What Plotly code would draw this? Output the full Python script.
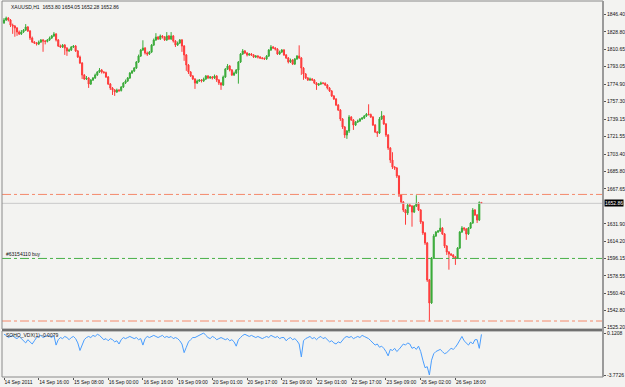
import plotly.graph_objects as go

# ---------------- data ----------------
closes = [
    1841.0, 1843.0, 1841.0, 1835.8, 1834.8, 1832.8, 1828.7, 1826.6, 1828.7, 1830.7,
    1833.8, 1829.7, 1822.5, 1818.4, 1817.4, 1816.3, 1818.4, 1820.5, 1819.4, 1819.0,
    1820.5, 1822.5, 1824.6, 1826.6, 1820.5, 1814.3, 1813.3, 1815.3, 1812.2, 1809.2,
    1810.2, 1813.3, 1814.3, 1809.2, 1803.0, 1796.8, 1784.5, 1780.4, 1781.5, 1775.3,
    1779.4, 1781.5, 1784.5, 1787.6, 1789.7, 1787.6, 1787.0, 1782.5, 1775.3, 1771.2,
    1769.1, 1767.1, 1769.1, 1768.6, 1772.2, 1776.3, 1778.4, 1781.5, 1786.6, 1788.6,
    1791.7, 1797.9, 1804.0, 1810.2, 1812.2, 1807.1, 1806.1, 1808.1, 1815.3, 1820.5,
    1823.5, 1821.5, 1824.6, 1823.5, 1820.5, 1824.6, 1821.5, 1824.6, 1819.4, 1815.3,
    1817.4, 1820.5, 1814.3, 1805.1, 1794.8, 1787.6, 1783.5, 1780.4, 1776.3, 1778.4,
    1779.4, 1778.4, 1780.4, 1783.5, 1781.5, 1782.5, 1781.5, 1783.5, 1779.4, 1776.3,
    1774.3, 1782.5, 1790.7, 1793.8, 1789.7, 1784.5, 1786.6, 1789.7, 1797.9, 1806.1,
    1809.2, 1807.1, 1805.1, 1806.1, 1805.1, 1803.0, 1804.0, 1803.0, 1802.0, 1801.6,
    1801.0, 1804.0, 1810.2, 1813.3, 1812.2, 1811.2, 1806.1, 1808.1, 1810.2, 1805.1,
    1802.0, 1797.9, 1799.9, 1795.8, 1801.0, 1804.0, 1802.0, 1791.7, 1785.6, 1781.5,
    1779.4, 1780.4, 1779.4, 1776.3, 1774.3, 1775.3, 1776.3, 1776.0, 1774.3, 1771.2,
    1768.1, 1763.0, 1759.9, 1753.7, 1748.6, 1739.4, 1731.2, 1723.0, 1727.1, 1741.4,
    1738.4, 1733.2, 1736.3, 1737.3, 1739.4, 1740.4, 1742.5, 1744.5, 1744.0, 1741.4,
    1733.2, 1726.0, 1725.0, 1739.4, 1742.5, 1734.3, 1723.0, 1709.6, 1697.3, 1690.1,
    1689.1, 1680.9, 1661.4, 1654.2, 1646.0, 1642.9, 1651.1, 1650.1, 1643.9, 1650.1,
    1653.2, 1646.0, 1633.7, 1622.4, 1612.2, 1574.2, 1550.6, 1596.7, 1619.3, 1623.4,
    1624.5, 1627.5, 1621.4, 1609.0, 1602.9, 1600.8, 1599.8, 1597.8, 1596.7, 1607.0,
    1623.4, 1627.5, 1626.5, 1621.4, 1627.5, 1632.7, 1646.0, 1640.9, 1635.7, 1653.8,
    1652.86,
]

opens = [
    1838.0, 1841.0, 1843.0, 1841.0, 1835.8, 1834.8, 1832.8, 1828.7, 1826.6, 1828.7,
    1830.7, 1833.8, 1829.7, 1822.5, 1818.4, 1817.4, 1816.3, 1818.4, 1820.5, 1819.4,
    1819.0, 1820.5, 1822.5, 1824.6, 1826.6, 1820.5, 1814.3, 1813.3, 1815.3, 1812.2,
    1809.2, 1810.2, 1813.3, 1814.3, 1809.2, 1803.0, 1796.8, 1784.5, 1780.4, 1781.5,
    1775.3, 1779.4, 1781.5, 1784.5, 1787.6, 1789.7, 1787.6, 1787.0, 1782.5, 1775.3,
    1771.2, 1769.1, 1767.1, 1769.1, 1768.6, 1772.2, 1776.3, 1778.4, 1781.5, 1786.6,
    1788.6, 1791.7, 1797.9, 1804.0, 1810.2, 1812.2, 1807.1, 1806.1, 1808.1, 1815.3,
    1820.5, 1823.5, 1821.5, 1824.6, 1823.5, 1820.5, 1824.6, 1821.5, 1824.6, 1819.4,
    1815.3, 1817.4, 1820.5, 1814.3, 1805.1, 1794.8, 1787.6, 1783.5, 1780.4, 1776.3,
    1778.4, 1779.4, 1778.4, 1780.4, 1783.5, 1781.5, 1782.5, 1781.5, 1783.5, 1779.4,
    1776.3, 1774.3, 1782.5, 1790.7, 1793.8, 1789.7, 1784.5, 1786.6, 1789.7, 1797.9,
    1806.1, 1809.2, 1807.1, 1805.1, 1806.1, 1805.1, 1803.0, 1804.0, 1803.0, 1802.0,
    1801.6, 1801.0, 1804.0, 1810.2, 1813.3, 1812.2, 1811.2, 1806.1, 1808.1, 1810.2,
    1805.1, 1802.0, 1797.9, 1799.9, 1795.8, 1801.0, 1804.0, 1802.0, 1791.7, 1785.6,
    1781.5, 1779.4, 1780.4, 1779.4, 1776.3, 1774.3, 1775.3, 1776.3, 1776.0, 1774.3,
    1771.2, 1768.1, 1763.0, 1759.9, 1753.7, 1748.6, 1739.4, 1731.2, 1723.0, 1727.1,
    1741.4, 1738.4, 1733.2, 1736.3, 1737.3, 1739.4, 1740.4, 1742.5, 1744.5, 1744.0,
    1741.4, 1733.2, 1726.0, 1725.0, 1739.4, 1742.5, 1734.3, 1723.0, 1709.6, 1697.3,
    1690.1, 1689.1, 1680.9, 1661.4, 1654.2, 1646.0, 1642.9, 1651.1, 1650.1, 1643.9,
    1650.1, 1653.2, 1646.0, 1633.7, 1622.4, 1612.2, 1574.2, 1550.6, 1596.7, 1619.3,
    1623.4, 1624.5, 1627.5, 1621.4, 1609.0, 1602.9, 1600.8, 1599.8, 1597.8, 1596.7,
    1607.0, 1623.4, 1627.5, 1626.5, 1621.4, 1627.5, 1632.7, 1646.0, 1640.9, 1635.7,
    1653.80,
]

# upper / lower shadow lengths (price units) read from the candles
upper_wicks = [
    2, 1.5, 1, 1, 1.5, 1, 1, 1.5, 2, 1,
    3, 1, 1, 1.5, 1, 1, 1.5, 1, 1, 1,
    1, 1.5, 1, 2, 1, 1, 1.5, 1, 1, 1,
    1.5, 1, 1, 1, 1, 1.5, 1, 1, 2, 1,
    1, 1, 1.5, 1, 2, 1, 1, 1, 1, 1,
    1, 1, 1.5, 1, 1, 1, 1.5, 1, 1, 1,
    1, 1, 1.5, 1, 8, 1, 1.5, 1, 1, 1.5,
    4, 1, 1.5, 1, 1, 4, 1, 4, 1, 1,
    1.5, 1, 1, 1, 1, 1, 1, 1, 1, 1.5,
    1, 1, 1.5, 1, 1, 1, 1, 1.5, 1, 1,
    1, 1.5, 1, 2, 1, 1, 1.5, 1, 1, 1,
    2, 1, 1, 1, 1, 1, 1, 1, 1, 1,
    1, 1, 1, 2, 1, 1, 1, 1.5, 1, 1,
    1, 1, 1.5, 1, 1, 1, 11, 1, 1, 1,
    1, 1.5, 1, 1, 1, 1, 1.5, 1, 1, 1,
    1, 1, 1, 1, 1, 1, 1, 1, 1, 2,
    1, 1, 1, 1.5, 1, 1, 1, 1, 10, 1,
    1, 1, 1, 2, 5, 1, 1, 1, 1, 8,
    1, 1, 1, 1, 1, 1, 2, 2, 1, 1,
    8, 1, 1, 1, 1, 1, 1, 1, 2, 1,
    1, 10, 1, 1, 1, 1, 1, 1, 1, 1,
    1, 2, 1, 1, 1, 1, 2, 1, 1, 1,
    0.25,
]
lower_wicks = [
    1, 1, 1.5, 2, 8, 9, 4, 1, 1, 1,
    1, 1, 2, 1, 1, 1.5, 1, 1, 11, 3,
    1, 1, 1, 1, 1.5, 1, 1, 1, 7, 5,
    1, 1, 1, 1, 1, 1, 4, 1, 1, 4,
    1, 1, 1, 1, 1, 1.5, 1, 1, 1, 2,
    5, 4, 1, 1.5, 1, 1, 1, 1, 1, 1,
    1, 1, 1, 1, 1, 1.5, 2, 1, 1, 1,
    1, 1, 1, 1.5, 1, 1, 1, 1, 1.5, 2,
    1, 1, 6, 6, 6, 2, 1, 1, 6, 1,
    1, 1.5, 1, 1, 1, 1, 1.5, 1, 2, 2,
    5, 1, 1, 1, 1.5, 1, 1, 1, 14, 1,
    1, 1, 1.5, 1, 1, 1, 1, 1.5, 1, 1,
    1, 1, 1, 1, 1, 1.5, 1, 1, 1, 1,
    1, 1.5, 1, 1, 1, 1, 1, 7, 6, 1,
    1, 1, 1, 1, 5, 1, 1, 1, 1, 1.5,
    1, 1, 1, 1, 1, 2, 2, 3, 4, 2,
    1, 5, 1, 1, 1, 1, 1, 1, 1, 1,
    1, 1, 4, 1, 1, 1, 2, 2, 3, 2,
    2, 2, 2, 2, 2, 12, 2, 1, 15, 1,
    1, 1, 2, 2, 2, 2, 19, 1, 1, 1,
    1, 1, 1, 2, 3, 16, 1, 1, 7, 1,
    1, 1, 2, 6, 1, 1, 1, 1, 3, 1,
    0.58,
]

# SOHO_VDX(1) indicator values
vdx = [
    0.0, -0.1, -0.3, -0.2, -0.1, -0.3, -0.4, -0.2, -0.4, -0.6,
    -0.8, -0.5, -0.7, -0.9, -0.6, -0.3, -0.2, -0.1, -0.3, -0.2,
    -0.1, -0.2, -0.3, -0.1, -1.0, -0.5, -0.3, -0.4, -0.2, -0.3,
    -0.5, -0.3, -0.2, -0.4, -0.8, -1.5, -0.9, -0.5, -0.3, -0.2,
    -0.3, -0.1, -0.2, 0.0, -0.1, -0.3, -0.5, -0.4, -0.6, -0.4,
    -0.5, -0.7, -0.6, -0.9, -0.5, -0.3, -0.4, -0.3, -0.2, -0.3,
    -0.4, -0.3, -0.5, -0.4, -1.0, -0.4, -0.2, -0.3, -0.2, -0.1,
    -0.2, -0.3, -0.2, -0.1, -0.3, -0.2, -0.3, -0.2, -0.4, -0.3,
    -0.4, -0.6, -0.9, -1.7, -1.2, -0.7, -0.5, -0.3, -0.3, -0.2,
    -0.1, 0.0, 0.1208, -0.1, -0.3, -0.4, -0.2, -0.3, -0.5, -0.4,
    -0.3, -0.4, -0.5, -0.4, -0.6, -0.5, -0.7, -1.1, -0.5, -0.3,
    -0.1, 0.0, -0.1, -0.2, -0.1, -0.2, -0.3, -0.2, -0.3, -0.4,
    -0.3, -0.2, -0.3, -0.1, -0.2, -0.3, -0.2, -0.4, -0.3, -0.3,
    -0.6, -0.4, -0.3, -0.5, -0.4, -0.6, -0.9, -2.1, -0.6, -0.4,
    -0.3, -0.2, -0.4, -0.3, -0.5, -0.3, -0.2, -0.4, -0.3, -0.5,
    -0.7, -0.6, -0.8, -0.9, -0.7, -0.8, -0.5, -0.3, -0.2, -0.3,
    -0.2, -0.4, -0.3, -0.2, -0.3, -0.1, -0.2, -0.3, -0.4, -0.6,
    -0.8, -1.0, -0.9, -1.2, -1.1, -1.3, -1.6, -2.0, -1.4, -1.5,
    -1.3, -1.6, -1.4, -1.1, -0.9, -1.0, -0.8, -0.9, -1.3, -1.2,
    -1.4, -1.1, -1.6, -2.4, -3.1, -3.0, -3.7726, -2.4, -1.8, -1.6,
    -1.5, -1.4, -1.6, -1.8, -1.7, -1.5, -1.3, -1.4, -1.2, -0.9,
    -0.5, -0.2, -0.6, -0.8, -1.0, -0.7, -0.9, -0.5, -0.5, -1.3,
    -0.0079,
]

time_label_bars = [0, 16, 32, 48, 64, 80, 96, 112, 128, 144, 160, 176, 192, 208]
time_labels = ["14 Sep 2011", "14 Sep 16:00", "15 Sep 08:00", "16 Sep 00:00",
               "16 Sep 16:00", "19 Sep 09:00", "20 Sep 01:00", "20 Sep 17:00",
               "21 Sep 09:00", "22 Sep 01:00", "22 Sep 17:00", "23 Sep 09:00",
               "26 Sep 02:00", "26 Sep 18:00"]

price_ticks = [1846.40, 1828.80, 1810.65, 1793.05, 1774.90, 1757.30, 1739.15,
               1721.55, 1703.40, 1685.80, 1667.65, 1631.90, 1614.20, 1596.15,
               1578.55, 1560.40, 1542.80, 1525.20]
vdx_ticks = [0.1208, -3.7726]

symbol_title = "XAUUSD,H1  1653.80 1654.05 1652.28 1652.86"
indicator_title = "SOHO_VDX(1) -0.0079"
order_label = "#63154110 buy"
tp_level = 1662.0
order_level = 1596.3
sl_level = 1532.1
bid_price = 1652.86

assert len(closes) == len(opens) == len(upper_wicks) == len(lower_wicks) == len(vdx), \
    (len(closes), len(opens), len(upper_wicks), len(lower_wicks), len(vdx))

bars = list(range(len(closes)))
highs = [max(o, c) + u for o, c, u in zip(opens, closes, upper_wicks)]
lows = [min(o, c) - w for o, c, w in zip(opens, closes, lower_wicks)]

# ---------------- styling ----------------
BG = "#f3f3f1"
GREEN = "#3aab3a"
RED = "#ff3b3b"
FONT = "Liberation Sans"
FS = 5

W, H = 625, 387
ML, MR, MT, MB = 2, 22, 1, 10
PW = W - ML - MR
PH = H - MT - MB


def py(pix):  # pixel row -> paper y
    return (H - MB - pix) / PH


def px(pix):  # pixel column -> paper x
    return (pix - ML) / PW


main_dom = [py(329), 1.0]
ind_dom = [0.0, py(331)]
x_range = [-0.92, 276.0]

fig = go.Figure()
fig.add_trace(go.Candlestick(
    x=bars, open=opens, high=highs, low=lows, close=closes,
    increasing=dict(line=dict(color=GREEN, width=1), fillcolor=GREEN),
    decreasing=dict(line=dict(color=RED, width=1), fillcolor=RED),
    whiskerwidth=0, xaxis="x", yaxis="y", showlegend=False, hoverinfo="skip",
))
fig.add_trace(go.Scatter(
    x=bars, y=vdx, mode="lines", line=dict(color="#4a9eff", width=1),
    xaxis="x", yaxis="y2", showlegend=False, hoverinfo="skip",
))

shapes = []
# order lines
for lvl, col in [(tp_level, "#f58a6c"), (sl_level, "#f58a6c"), (order_level, "#48b048")]:
    shapes.append(dict(type="line", xref="paper", yref="y", x0=0, x1=1, y0=lvl, y1=lvl,
                       line=dict(color=col, width=1, dash="dashdot")))
# bid line
shapes.append(dict(type="line", xref="paper", yref="y", x0=0, x1=1, y0=bid_price, y1=bid_price,
                   line=dict(color="#c9c9c9", width=1)))
# frames
shapes.append(dict(type="rect", xref="paper", yref="paper", x0=0, x1=1, y0=main_dom[0], y1=1,
                   line=dict(color="#8a8a8a", width=1)))
shapes.append(dict(type="rect", xref="paper", yref="paper", x0=0, x1=1, y0=0, y1=ind_dom[1],
                   line=dict(color="#8a8a8a", width=1)))
shapes.append(dict(type="line", xref="paper", yref="paper", x0=0, x1=1, y0=py(330), y1=py(330),
                   line=dict(color="#707070", width=2)))
shapes.append(dict(type="line", xref="paper", yref="paper", x0=1, x1=1, y0=0, y1=1,
                   line=dict(color="#9a9a9a", width=2)))

annotations = [
    dict(xref="paper", yref="paper", x=px(9), y=py(7), text=symbol_title, showarrow=False,
         xanchor="left", yanchor="middle", font=dict(family=FONT, size=FS, color="#111")),
    dict(xref="paper", yref="paper", x=px(4), y=py(335), text=indicator_title, showarrow=False,
         xanchor="left", yanchor="middle", font=dict(family=FONT, size=FS, color="#111")),
    dict(xref="paper", yref="y", x=px(4), y=order_level, text=order_label, showarrow=False,
         xanchor="left", yanchor="bottom", yshift=-1, font=dict(family=FONT, size=FS, color="#111")),
    dict(xref="paper", yref="y", x=1.0, y=bid_price, text=f"{bid_price:.2f}",
         showarrow=False, xanchor="left", yanchor="middle", bgcolor="#000000", borderpad=0,
         xshift=1, font=dict(family=FONT, size=FS, color="#ffffff")),
]

fig.update_layout(
    width=W, height=H,
    margin=dict(l=ML, r=MR, t=MT, b=MB, pad=0, autoexpand=False),
    paper_bgcolor=BG, plot_bgcolor=BG,
    shapes=shapes, annotations=annotations,
    xaxis=dict(domain=[0, 1], range=x_range, anchor="y2", showgrid=False, zeroline=False,
               rangeslider=dict(visible=False), automargin=False, tickangle=0,
               tickvals=time_label_bars, ticktext=time_labels, ticks="outside", ticklen=2,
               tickcolor="#555", ticklabelposition="outside right",
               tickfont=dict(family=FONT, size=FS, color="#111"), showline=False),
    yaxis=dict(domain=main_dom, range=[1523.9, 1860.5], side="right", anchor="x",
               showgrid=False, zeroline=False, tickvals=price_ticks, automargin=False,
               ticktext=[f"{v:.2f}" for v in price_ticks], ticks="outside", ticklen=2,
               tickcolor="#555", tickfont=dict(family=FONT, size=FS, color="#111")),
    yaxis2=dict(domain=ind_dom, range=[-3.958, 0.306], side="right", anchor="x",
                showgrid=False, zeroline=False, tickvals=vdx_ticks, automargin=False,
                ticktext=[f"{v:.4f}" for v in vdx_ticks], ticks="outside", ticklen=2,
                tickcolor="#555", tickfont=dict(family=FONT, size=FS, color="#111")),
)

fig.write_html("out.html")
